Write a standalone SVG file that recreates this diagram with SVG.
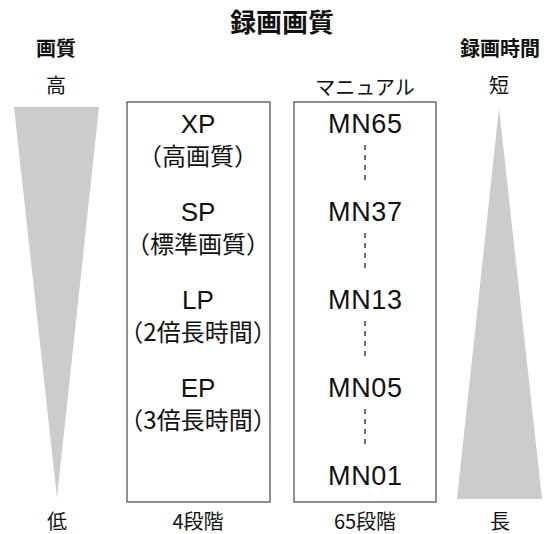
<svg xmlns="http://www.w3.org/2000/svg" width="551" height="534" viewBox="0 0 551 534">
<style>
.t{font-family:"Liberation Sans","Noto Sans CJK JP",sans-serif;fill:#111;text-anchor:middle}
.j{font-family:"Noto Sans CJK JP","Liberation Sans",sans-serif;fill:#111;text-anchor:middle}
.b{font-weight:bold}
.box{fill:#fff;stroke:#555;stroke-width:1.3}
.tri{fill:#cccccc}
.dash{stroke:#222;stroke-width:1.3;stroke-dasharray:5 5;fill:none}
</style>
<rect width="551" height="534" fill="#fff"/>
<g id="title"><text class="j b" x="282" y="32" font-size="26">録画画質</text></g>
<g id="quality-axis">
<text class="j b" x="56" y="56" font-size="20">画質</text>
<text class="j" x="56" y="93" font-size="20">高</text>
<polygon class="tri" points="14,107 99,107 57,498"/>
<text class="j" x="57" y="529" font-size="20">低</text>
</g>
<g id="time-axis">
<text class="j b" x="500" y="56" font-size="20">録画時間</text>
<text class="j" x="499" y="93" font-size="20">短</text>
<polygon class="tri" points="499,108 542,499 457,499"/>
<text class="j" x="500" y="529" font-size="20">長</text>
</g>
<g id="modes">
<rect class="box" x="127" y="102" width="143" height="400"/>
<text class="t" x="198" y="133" font-size="26">XP</text>
<text class="j" x="198" y="165" font-size="24">（高画質）</text>
<text class="t" x="198" y="221" font-size="26">SP</text>
<text class="j" x="198" y="253" font-size="24">（標準画質）</text>
<text class="t" x="198" y="309" font-size="26">LP</text>
<text class="j" x="198" y="341" font-size="24">（2倍長時間）</text>
<text class="t" x="198" y="397" font-size="26">EP</text>
<text class="j" x="198" y="429" font-size="24">（3倍長時間）</text>
<text class="j" x="198" y="529" font-size="20">4段階</text>
</g>
<g id="manual">
<text class="j" x="365" y="95" font-size="20">マニュアル</text>
<rect class="box" x="294" y="102" width="142" height="400"/>
<text class="t" x="365" y="133" font-size="27" textLength="74" lengthAdjust="spacing">MN65</text>
<text class="t" x="365" y="221" font-size="27" textLength="74" lengthAdjust="spacing">MN37</text>
<text class="t" x="365" y="309" font-size="27" textLength="74" lengthAdjust="spacing">MN13</text>
<text class="t" x="365" y="397" font-size="27" textLength="74" lengthAdjust="spacing">MN05</text>
<text class="t" x="365" y="485" font-size="27" textLength="74" lengthAdjust="spacing">MN01</text>
<text class="j" x="365" y="529" font-size="20">65段階</text>
</g>
<g id="connectors">
<line class="dash" x1="365" y1="145" x2="365" y2="183"/>
<line class="dash" x1="365" y1="233" x2="365" y2="271"/>
<line class="dash" x1="365" y1="321" x2="365" y2="359"/>
<line class="dash" x1="365" y1="409" x2="365" y2="447"/>
</g>
</svg>
